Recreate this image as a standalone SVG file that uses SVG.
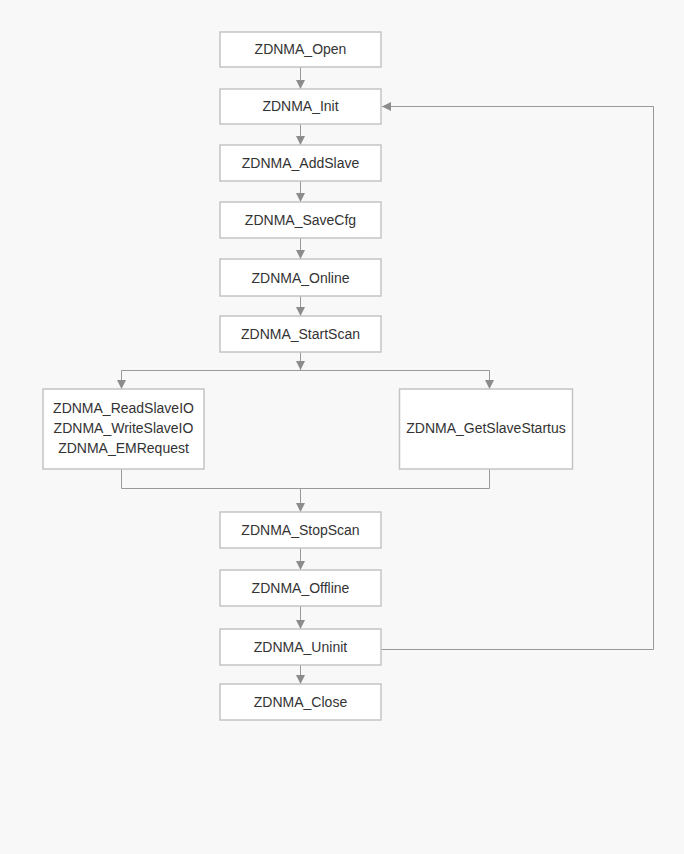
<svg xmlns="http://www.w3.org/2000/svg" width="684" height="854" viewBox="0 0 684 854">
<defs>
<style>
.box{fill:#ffffff;stroke:#c4c4c4;stroke-width:1.5}
.lbl{font-family:"Liberation Sans",Arial,sans-serif;font-size:14px;fill:#333333;text-anchor:middle}
.ln{fill:none;stroke:#999999;stroke-width:1}
</style>
<marker id="arr" viewBox="0 0 10 10" refX="10" refY="5" markerWidth="9" markerHeight="9" markerUnits="userSpaceOnUse" orient="auto">
<path d="M0,0 L10,5 L0,10 z" fill="#8c8c8c"/>
</marker>
</defs>
<rect width="684" height="854" fill="#f8f8f8"/>
<g id="connectors">
<line class="ln" x1="300.5" y1="67" x2="300.5" y2="89" marker-end="url(#arr)"/>
<line class="ln" x1="300.5" y1="124" x2="300.5" y2="145" marker-end="url(#arr)"/>
<line class="ln" x1="300.5" y1="181" x2="300.5" y2="202" marker-end="url(#arr)"/>
<line class="ln" x1="300.5" y1="238" x2="300.5" y2="259" marker-end="url(#arr)"/>
<line class="ln" x1="300.5" y1="296" x2="300.5" y2="316" marker-end="url(#arr)"/>
<line class="ln" x1="300.5" y1="352" x2="300.5" y2="370" marker-end="url(#arr)"/>
<path class="ln" d="M121.5,389 L121.5,370.5 L489.5,370.5 L489.5,389" />
<line class="ln" x1="121.5" y1="372" x2="121.5" y2="389" marker-end="url(#arr)"/>
<line class="ln" x1="489.5" y1="372" x2="489.5" y2="389" marker-end="url(#arr)"/>
<path class="ln" d="M121.5,469 L121.5,488.5 L489.5,488.5 L489.5,469"/>
<line class="ln" x1="300.5" y1="488" x2="300.5" y2="512" marker-end="url(#arr)"/>
<line class="ln" x1="300.5" y1="548" x2="300.5" y2="570" marker-end="url(#arr)"/>
<line class="ln" x1="300.5" y1="606" x2="300.5" y2="629" marker-end="url(#arr)"/>
<line class="ln" x1="300.5" y1="665" x2="300.5" y2="684" marker-end="url(#arr)"/>
<path class="ln" d="M381,649.5 L653.5,649.5 L653.5,106.5 L382,106.5" marker-end="url(#arr)"/>
</g>
<g id="n_open"><rect class="box" x="220" y="32" width="161" height="35"/><text class="lbl" x="300.5" y="54">ZDNMA_Open</text></g>
<g id="n_init"><rect class="box" x="220" y="89" width="161" height="35"/><text class="lbl" x="300.5" y="111">ZDNMA_Init</text></g>
<g id="n_addslave"><rect class="box" x="220" y="145" width="161" height="36"/><text class="lbl" x="300.5" y="168">ZDNMA_AddSlave</text></g>
<g id="n_savecfg"><rect class="box" x="220" y="202" width="161" height="36"/><text class="lbl" x="300.5" y="225">ZDNMA_SaveCfg</text></g>
<g id="n_online"><rect class="box" x="220" y="259" width="161" height="37"/><text class="lbl" x="300.5" y="283">ZDNMA_Online</text></g>
<g id="n_startscan"><rect class="box" x="220" y="316" width="161" height="36"/><text class="lbl" x="300.5" y="339">ZDNMA_StartScan</text></g>
<g id="n_io"><rect class="box" x="43" y="389" width="161" height="80"/>
<text class="lbl" x="123.5" y="413">ZDNMA_ReadSlaveIO</text>
<text class="lbl" x="123.5" y="433">ZDNMA_WriteSlaveIO</text>
<text class="lbl" x="123.5" y="453">ZDNMA_EMRequest</text></g>
<g id="n_status"><rect class="box" x="399.5" y="389" width="173" height="80"/><text class="lbl" x="486" y="433">ZDNMA_GetSlaveStartus</text></g>
<g id="n_stopscan"><rect class="box" x="220" y="512" width="161" height="36"/><text class="lbl" x="300.5" y="535">ZDNMA_StopScan</text></g>
<g id="n_offline"><rect class="box" x="220" y="570" width="161" height="36"/><text class="lbl" x="300.5" y="593">ZDNMA_Offline</text></g>
<g id="n_uninit"><rect class="box" x="220" y="629" width="161" height="36"/><text class="lbl" x="300.5" y="652">ZDNMA_Uninit</text></g>
<g id="n_close"><rect class="box" x="220" y="684" width="161" height="36"/><text class="lbl" x="300.5" y="707">ZDNMA_Close</text></g>
</svg>
